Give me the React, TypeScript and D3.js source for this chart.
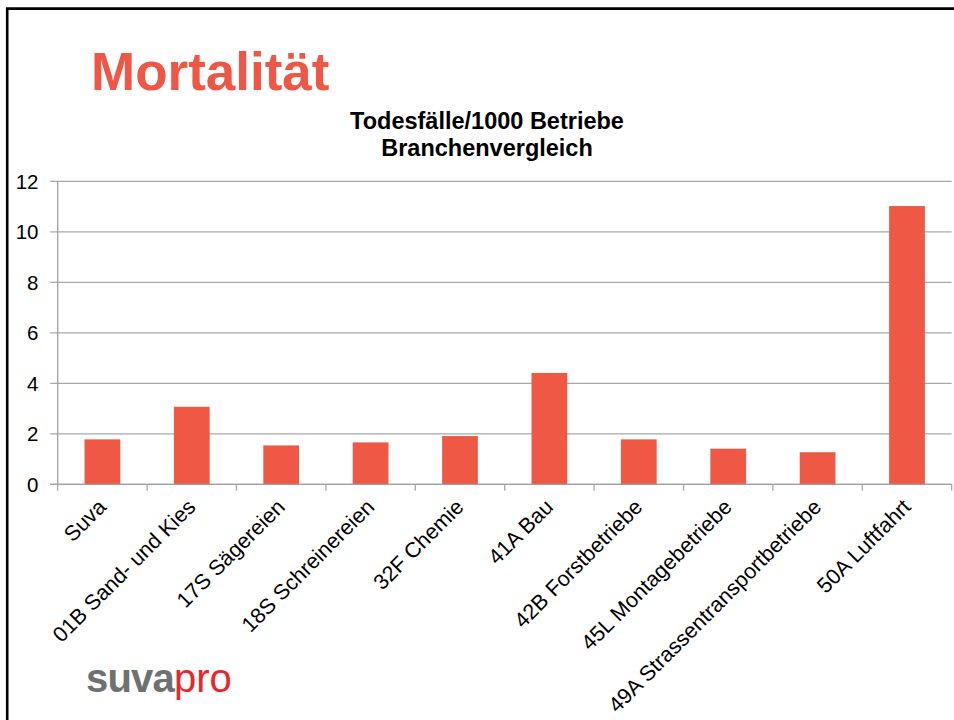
import { useEffect, useRef } from 'react'
import * as d3 from 'd3'

const categories: string[] = [
  'Suva',
  '01B Sand- und Kies',
  '17S Sägereien',
  '18S Schreinereien',
  '32F Chemie',
  '41A Bau',
  '42B Forstbetriebe',
  '45L Montagebetriebe',
  '49A Strassentransportbetriebe',
  '50A Luftfahrt',
]

// Todesfälle pro 1000 Betriebe
const values: number[] = [1.78, 3.07, 1.54, 1.66, 1.91, 4.41, 1.78, 1.41, 1.27, 11.02]

const yTicks: number[] = [0, 2, 4, 6, 8, 10, 12]

const BAR_COLOR = '#EE5845'
const FONT = '"Liberation Sans", Arial, Helvetica, sans-serif'

const W = 954
const H = 720

export default function App() {
  const svgRef = useRef<SVGSVGElement>(null)

  useEffect(() => {
    if (!svgRef.current) return
    const svg = d3.select(svgRef.current)
    svg.selectAll('*').remove()

    const plot = { left: 57.7, right: 951.7, top: 181.3, bottom: 484.3 }

    const x = d3
      .scaleBand<string>()
      .domain(categories)
      .range([plot.left, plot.right])
      .paddingInner(0.6)
      .paddingOuter(0.3)

    const y = d3.scaleLinear().domain([0, 12]).range([plot.bottom, plot.top])

    // slide frame
    svg
      .append('path')
      .attr('d', `M7.2,${H} V8.6 H${W}`)
      .attr('fill', 'none')
      .attr('stroke', '#000')
      .attr('stroke-width', 2.6)

    // heading
    svg
      .append('text')
      .attr('x', 91)
      .attr('y', 89.5)
      .attr('fill', '#EE5746')
      .attr('font-family', FONT)
      .attr('font-weight', 'bold')
      .attr('font-size', 53)
      .text('Mortalität')

    // chart title, two lines
    const titleLines = ['Todesfälle/1000 Betriebe', 'Branchenvergleich']
    svg
      .selectAll('text.title')
      .data(titleLines)
      .enter()
      .append('text')
      .attr('class', 'title')
      .attr('x', 487)
      .attr('y', (_, i) => 128.5 + i * 27)
      .attr('text-anchor', 'middle')
      .attr('font-family', FONT)
      .attr('font-weight', 'bold')
      .attr('font-size', 23.5)
      .attr('fill', '#000')
      .text(d => d)

    // gridlines + y ticks
    const g = svg.append('g')
    g.selectAll('line.grid')
      .data(yTicks)
      .enter()
      .append('line')
      .attr('class', 'grid')
      .attr('x1', plot.left - 7.5)
      .attr('x2', plot.right)
      .attr('y1', d => y(d))
      .attr('y2', d => y(d))
      .attr('stroke', '#A8A8A8')
      .attr('stroke-width', 1.3)

    g.selectAll('text.ylab')
      .data(yTicks)
      .enter()
      .append('text')
      .attr('class', 'ylab')
      .attr('x', 38.5)
      .attr('y', d => y(d))
      .attr('dy', '0.36em')
      .attr('text-anchor', 'end')
      .attr('font-family', FONT)
      .attr('font-size', 20.5)
      .attr('fill', '#000')
      .text(d => d)

    // y axis line
    g.append('line')
      .attr('x1', plot.left)
      .attr('x2', plot.left)
      .attr('y1', plot.top)
      .attr('y2', plot.bottom)
      .attr('stroke', '#A0A0A0')
      .attr('stroke-width', 1.3)

    // x tick marks at category boundaries
    const step = x.step()
    const boundaries = d3.range(categories.length + 1).map(i => plot.left + i * step)
    g.selectAll('line.xtick')
      .data(boundaries)
      .enter()
      .append('line')
      .attr('class', 'xtick')
      .attr('x1', d => d)
      .attr('x2', d => d)
      .attr('y1', plot.bottom)
      .attr('y2', plot.bottom + 6.5)
      .attr('stroke', '#A8A8A8')
      .attr('stroke-width', 1.3)

    // bars
    g.selectAll('rect.bar')
      .data(values)
      .enter()
      .append('rect')
      .attr('class', 'bar')
      .attr('x', (_, i) => x(categories[i])!)
      .attr('width', x.bandwidth())
      .attr('y', d => y(d))
      .attr('height', d => y(0) - y(d))
      .attr('fill', BAR_COLOR)

    // baseline on top of bars
    g.append('line')
      .attr('x1', plot.left - 7.5)
      .attr('x2', plot.right)
      .attr('y1', y(0))
      .attr('y2', y(0))
      .attr('stroke', '#A0A0A0')
      .attr('stroke-width', 1.3)

    // rotated category labels
    g.selectAll('text.xlab')
      .data(categories)
      .enter()
      .append('text')
      .attr('class', 'xlab')
      .attr('text-anchor', 'end')
      .attr('transform', d => `translate(${x(d)! + x.bandwidth() / 2 + 5},${plot.bottom + 24}) rotate(-45)`)
      .attr('font-family', FONT)
      .attr('font-size', 21.5)
      .attr('fill', '#000')
      .text(d => d)

    // logo
    const logo = svg
      .append('text')
      .attr('x', 86)
      .attr('y', 692)
      .attr('font-family', FONT)
      .attr('font-size', 40)
    logo
      .append('tspan')
      .attr('font-weight', 'bold')
      .attr('fill', '#6F7072')
      .attr('letter-spacing', -0.8)
      .text('suva')
    logo.append('tspan').attr('fill', '#E8262C').text('pro')
  }, [])

  return (
    <svg
      ref={svgRef}
      width={W}
      height={H}
      style={{ position: 'absolute', left: 0, top: 0, background: '#fff' }}
    />
  )
}
